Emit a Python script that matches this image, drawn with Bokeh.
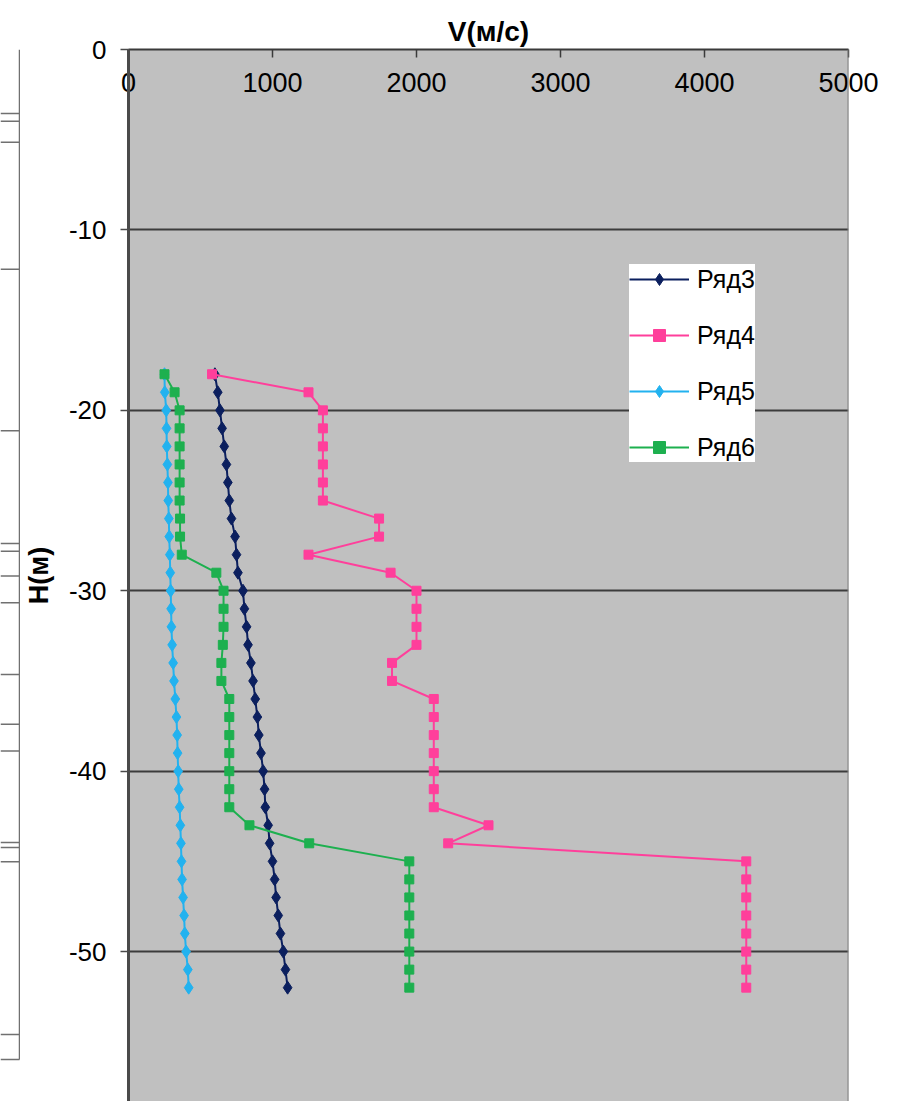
from bokeh.plotting import figure
from bokeh.layouts import row
from bokeh.models import Range1d, FixedTicker, Span, PrintfTickFormatter, LinearAxis
from bokeh.embed import file_html
from bokeh.resources import INLINE

# ---------------- data ----------------
depth = [-18, -19, -20, -21, -22, -23, -24, -25, -26, -27, -28, -29, -30, -31, -32, -33, -34, -35,
         -36, -37, -38, -39, -40, -41, -42, -43, -44, -45, -46, -47, -48, -49, -50, -51, -52]

ryad3 = [600, 620, 635, 650, 665, 680, 690, 700, 715, 740, 750, 760, 795, 805, 820, 830, 850, 865,
         880, 895, 905, 920, 935, 945, 950, 970, 980, 1000, 1015, 1025, 1040, 1055, 1075, 1090, 1105]
ryad4 = [580, 1250, 1350, 1350, 1350, 1350, 1350, 1350, 1740, 1740, 1250, 1820, 2000, 2000, 2000, 2000, 1830, 1830,
         2120, 2120, 2120, 2120, 2120, 2120, 2120, 2500, 2220, 4290, 4290, 4290, 4290, 4290, 4290, 4290, 4290]
ryad5 = [250, 252, 262, 264, 266, 270, 274, 276, 280, 283, 287, 290, 293, 296, 298, 303, 310, 316,
         325, 333, 338, 341, 345, 349, 355, 360, 364, 368, 372, 379, 386, 391, 400, 412, 418]
ryad6 = [250, 320, 355, 355, 355, 355, 355, 355, 358, 358, 370, 610, 660, 660, 660, 655, 645, 645,
         700, 700, 700, 700, 700, 700, 700, 840, 1255, 1950, 1950, 1950, 1950, 1950, 1950, 1950, 1950]

series_names = ["Ряд3", "Ряд4", "Ряд5", "Ряд6"]
x_ticks = [0, 1000, 2000, 3000, 4000, 5000]
y_ticks = [0, -10, -20, -30, -40, -50]
x_title = "V(м/с)"
y_title = "H(м)"

# neighbouring (cropped) column drawing on the far left, depth units
strip_lines = [-1.0, -1.44, -2.66, -10.03, -19.4, -25.94, -26.39, -27.83, -29.38, -33.54,
               -36.42, -37.97, -43.29, -43.57, -44.4, -54.43]
strip_bottom = -55.87

# ---------------- styling ----------------
FONT = "Liberation Sans"
x_min, x_max = 0, 5000
y_min, y_max = -58.31, 0
y_top_page = 2.72

colors = ["#0B1F5E", "#FF3F9B", "#22B2EF", "#1DB04F"]
markers = ["diamond", "square", "diamond", "square"]
msizes = [13, 9, 13, 9]

p = figure(width=879, height=1101,
           x_range=Range1d(x_min, x_max), y_range=Range1d(y_min, y_max),
           output_backend="svg", toolbar_location=None,
           x_axis_location=None,
           min_border_left=107, min_border_right=51, min_border_top=49, min_border_bottom=0)
p.background_fill_color = "#C0C0C0"
p.border_fill_color = "white"
p.outline_line_color = None

xa = LinearAxis(ticker=FixedTicker(ticks=x_ticks), formatter=PrintfTickFormatter(format="%d"))
xa.major_tick_in = 8
xa.major_tick_out = 0
xa.minor_tick_in = 0
xa.minor_tick_out = 0
xa.major_label_standoff = -42
xa.major_label_text_font = FONT
xa.major_label_text_font_size = "27px"
xa.major_label_text_color = "black"
xa.axis_line_color = "#3a3a3a"
xa.axis_line_width = 2
xa.major_tick_line_color = "#3a3a3a"
xa.major_tick_line_width = 1.5
xa.axis_label = x_title
xa.axis_label_text_font = FONT
xa.axis_label_text_font_size = "28px"
xa.axis_label_text_font_style = "bold"
xa.axis_label_text_color = "black"
xa.axis_label_standoff = 23
p.add_layout(xa, "above")

ya = p.yaxis[0]
ya.ticker = FixedTicker(ticks=y_ticks)
ya.formatter = PrintfTickFormatter(format="%d")
ya.major_tick_in = 0
ya.major_tick_out = 8
ya.minor_tick_in = 0
ya.minor_tick_out = 0
ya.major_label_standoff = 14
ya.major_label_text_font = FONT
ya.major_label_text_font_size = "26px"
ya.major_label_text_color = "black"
ya.axis_line_color = "#4a4a4a"
ya.axis_line_width = 3
ya.major_tick_line_color = "#4a4a4a"
ya.major_tick_line_width = 1.5
ya.axis_label = y_title
ya.axis_label_text_font = FONT
ya.axis_label_text_font_size = "27px"
ya.axis_label_text_font_style = "bold"
ya.axis_label_text_color = "black"
ya.axis_label_standoff = 12

p.xgrid.visible = False
p.ygrid.ticker = FixedTicker(ticks=y_ticks)
p.ygrid.grid_line_color = "#3c3c3c"
p.ygrid.grid_line_width = 2

p.add_layout(Span(location=x_max, dimension="height", line_color="#808080", line_width=2))

for vals, name, col, mk, ms in zip([ryad3, ryad4, ryad5, ryad6], series_names, colors, markers, msizes):
    p.line(vals, depth, line_color=col, line_width=2, legend_label=name)
    p.scatter(vals, depth, marker=mk, size=ms, fill_color=col, line_color=col, legend_label=name)

lg = p.legend[0]
lg.location = (501, 639)
lg.border_line_color = None
lg.background_fill_color = "white"
lg.background_fill_alpha = 1.0
lg.label_text_font = FONT
lg.label_text_font_size = "25px"
lg.label_text_color = "black"
lg.glyph_width = 60
lg.glyph_height = 30
lg.spacing = 26
lg.padding = 9
lg.label_standoff = 8
lg.margin = 0

# left strip: cropped neighbouring drawing
a = figure(width=20, height=1101, x_range=Range1d(0, 20), y_range=Range1d(y_min, y_top_page),
           output_backend="svg", toolbar_location=None,
           x_axis_location=None, y_axis_location=None, min_border=0)
a.grid.visible = False
a.outline_line_color = None
a.background_fill_color = "white"
a.border_fill_color = "white"
strip_x = 19
a.segment(x0=[0] * len(strip_lines), x1=[strip_x] * len(strip_lines), y0=strip_lines, y1=strip_lines,
          line_color="#707070", line_width=1.5)
a.segment(x0=[0, strip_x], x1=[strip_x, strip_x], y0=[strip_bottom, y_top_page], y1=[strip_bottom, strip_bottom],
          line_color="#707070", line_width=1.5)

layout = row(a, p, spacing=0)
open("out.html", "w").write(file_html(layout, INLINE))
